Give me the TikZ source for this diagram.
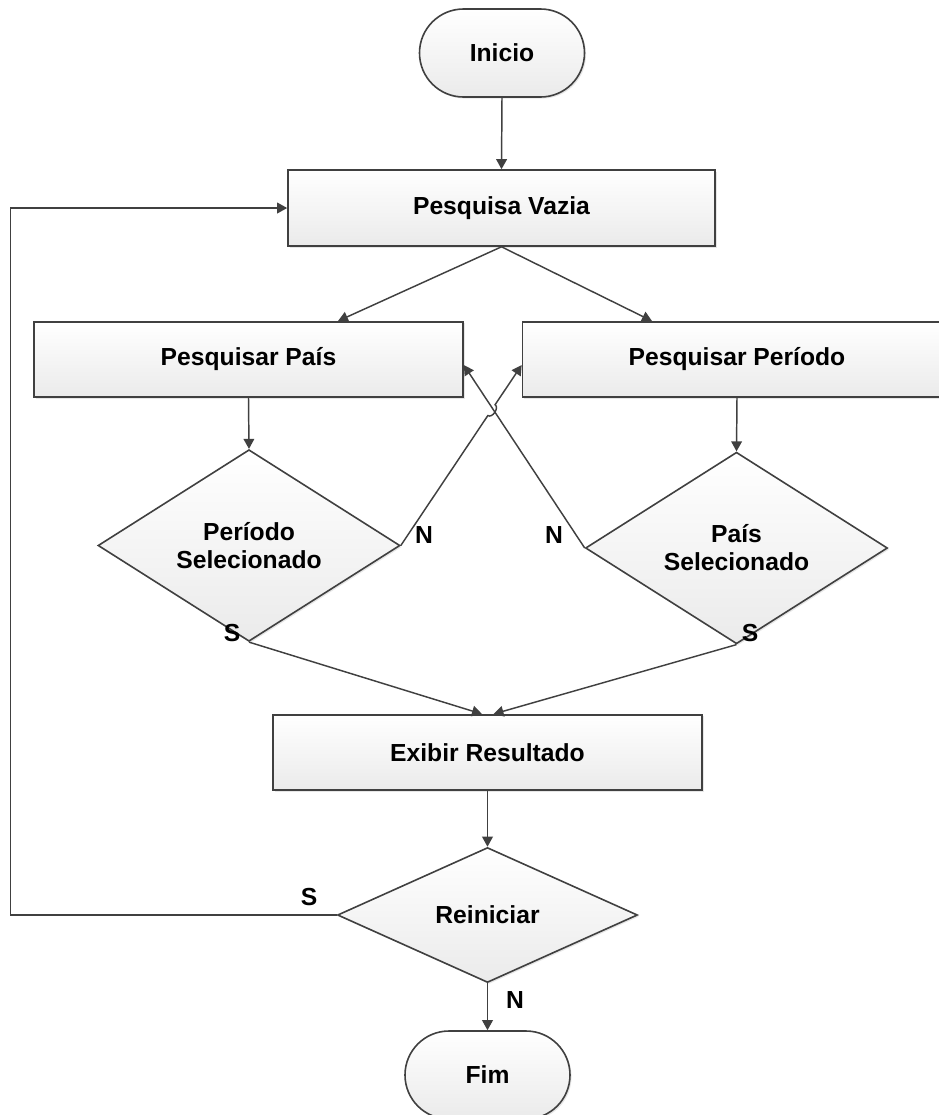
\documentclass[tikz,border=0pt]{standalone}
\usepackage{fontspec}
\setmainfont{Liberation Sans}
\usetikzlibrary{arrows.meta,shapes.geometric,calc,shadows}
\definecolor{linec}{HTML}{404040}
\begin{document}
\begin{tikzpicture}[x=0.75pt,y=-0.75pt,
  every node/.style={font=\fontsize{18.5}{21}\selectfont\bfseries, text=black},
  base/.style={draw=linec, line width=1.2pt, top color=white, bottom color=black!8,
    drop shadow={opacity=0.2, shadow xshift=1.2pt, shadow yshift=-1.2pt}},
  procbox/.style={base, rectangle, minimum width=321.75pt, minimum height=56.5pt, inner sep=0pt},
  term/.style={base, rectangle, rounded corners=33pt, minimum width=123.75pt, minimum height=66pt, inner sep=0pt},
  decis/.style={base, diamond, inner sep=0pt, align=center, minimum width=226.5pt, minimum height=101.25pt},
  arr/.style={draw=linec, line width=1.1pt, -{Triangle[length=7.5pt,width=8pt]}},
  lbl/.style={inner sep=0pt}]
\useasboundingbox (0,0) rectangle (939,1115);
\clip (0,0) rectangle (939,1115);

% nodes
\node[term]    (inicio) at (502,53)    {Inicio};
\node[procbox, minimum width=320.25pt, minimum height=57pt] (pv) at (501.5,208) {Pesquisa Vazia};
\node[procbox] (pp) at (248.5,359.5) {Pesquisar País};
\node[procbox] (pr) at (737,359.5)   {Pesquisar Período};
\node[decis]   (dl) at (249,545.5)   {Período\\Selecionado};
\node[decis]   (dr) at (736.5,548)   {País\\Selecionado};
\node[procbox] (ex) at (487.5,752.5) {Exibir Resultado};
\node[decis, minimum width=225pt] (re) at (487.5,915) {Reiniciar};
\node[term]    (fim) at (487.5,1075) {Fim};

% connectors
\draw[arr] (inicio.south) -- (pv.north);
\draw[arr] (pv.south) -- ($(pp.north)+(89.5,0)$);
\draw[arr] (pv.south) -- ($(pr.north)+(-85,0)$);
\draw[arr] (pp.south) -- (dl.north);
\draw[arr] (pr.south) -- (dr.north);

\coordinate (prin) at ($(pr.west)+(0,5.5)$);
\coordinate (ppin) at ($(pp.east)+(0,5.5)$);
\draw[arr] (dr.west) -- (ppin);
\coordinate (jA) at ($(dl.east)!0.72!(prin)$);
\coordinate (jB) at ($(dl.east)!0.78!(prin)$);
\draw[arr] (dl.east) -- (jA) .. controls ($(jA)!4pt!-90:(jB)$) and ($(jB)!4pt!90:(jA)$) .. (jB) -- (prin);

\draw[arr] (dl.south) -- ($(ex.north)+(-5.5,0)$);
\draw[arr] (dr.south) -- ($(ex.north)+(6,0)$);
\draw[arr] (ex.south) -- (re.north);
\draw[arr] (re.south) -- (fim.north);
\draw[arr] (re.west) -- ++(-326,0) |- (pv.west);

% labels
\node[lbl] (nl) at (424,535) {N};
\node[lbl] (nr) at (554,535) {N};
\node[lbl] (sl) at (232,633) {S};
\node[lbl] (sr) at (750,633) {S};
\node[lbl] (sre) at (309,897) {S};
\node[lbl] (nre) at (515,1000) {N};
\end{tikzpicture}
\end{document}
